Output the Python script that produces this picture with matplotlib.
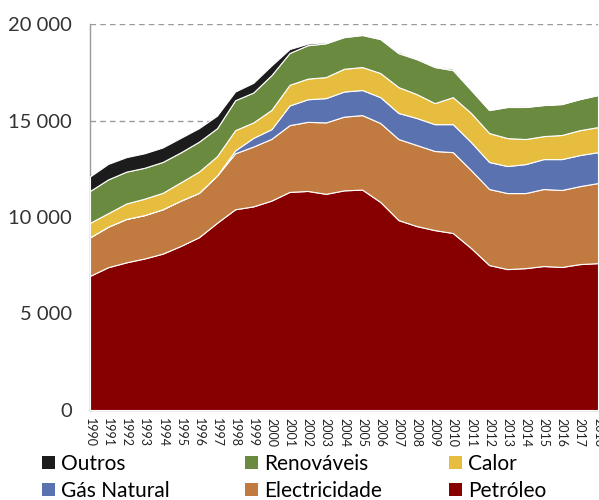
import numpy as np
import matplotlib
matplotlib.use('Agg')
import matplotlib.pyplot as plt
from matplotlib.patches import Patch
from matplotlib.ticker import FuncFormatter

plt.rcParams['font.family'] = ['Lato', 'DejaVu Sans']

# Data (ktep)
years = list(range(1990, 2019))
petroleo = [6950, 7400, 7650, 7850, 8100, 8500, 8950, 9700, 10400, 10550,
            10850, 11300, 11350, 11200, 11380, 11420, 10780, 9840, 9530, 9320,
            9170, 8390, 7510, 7300, 7350, 7460, 7410, 7560, 7610]
electricidade = [2000, 2100, 2250, 2250, 2300, 2350, 2300, 2450, 2900, 3100,
                 3200, 3460, 3580, 3700, 3820, 3860, 4090, 4200, 4200, 4100,
                 4190, 4040, 3940, 3940, 3890, 3990, 3990, 4040, 4150]
gas_natural = [0, 0, 0, 0, 0, 0, 0, 0, 150, 450,
               500, 1020, 1170, 1260, 1300, 1300, 1340, 1350, 1400, 1390,
               1450, 1450, 1400, 1400, 1500, 1550, 1600, 1610, 1600]
calor = [750, 700, 800, 850, 850, 950, 1100, 1000, 1050, 800,
         1000, 1070, 1070, 1090, 1180, 1190, 1250, 1340, 1240, 1090,
         1400, 1510, 1500, 1450, 1300, 1190, 1250, 1290, 1300]
renovaveis = [1650, 1750, 1650, 1600, 1600, 1550, 1550, 1450, 1550, 1550,
              1800, 1650, 1730, 1750, 1640, 1660, 1760, 1760, 1810, 1870,
              1400, 1190, 1190, 1610, 1660, 1610, 1600, 1610, 1660]
outros = [750, 800, 750, 750, 750, 750, 700, 650, 450, 500,
          500, 200, 80, 60, 40, 30, 40, 70, 50, 50,
          70, 40, 40, 30, 30, 20, 20, 20, 20]

series = [petroleo, electricidade, gas_natural, calor, renovaveis, outros]
names = ['Petróleo', 'Electricidade', 'Gás Natural', 'Calor', 'Renováveis', 'Outros']
colors = ['#870000', '#c17b40', '#5a72b0', '#e6bd3e', '#6a8a3f', '#1c1c1c']

fig = plt.figure(figsize=(5.99, 5.0), dpi=100)
ax = fig.add_axes([90/599, 1 - 410/500, 508/599, 386/500])

ax.stackplot(years, *series, colors=colors, edgecolor='white', linewidth=0.8, zorder=3)

ax.set_xlim(1990, 2018)
ax.set_ylim(0, 20000)
ax.set_yticks([0, 5000, 10000, 15000, 20000])
ax.yaxis.set_major_formatter(FuncFormatter(lambda v, p: f'{int(v):,}'.replace(',', ' ')))
ax.yaxis.grid(True, linestyle=(0, (4, 3)), color='#9a9a9a', linewidth=1.0, zorder=1)
ax.set_xticks(years)
ax.set_xticklabels([str(y) for y in years], rotation=-90, fontsize=9, color='#222222')
ax.tick_params(axis='y', labelsize=14.5, colors='#333333', length=0, pad=13)
ax.tick_params(axis='x', length=0, pad=6)

for s in ['top', 'right']:
    ax.spines[s].set_visible(False)
for s in ['left', 'bottom']:
    ax.spines[s].set_color('#999999')
    ax.spines[s].set_linewidth(1.0)

# legend: three columns, two rows
cols = [(['Outros', 'Gás Natural'], 42), (['Renováveis', 'Electricidade'], 245), (['Calor', 'Petróleo'], 449)]
for labels, xpix in cols:
    handles = [Patch(facecolor=colors[names.index(l)], edgecolor='none') for l in labels]
    fig.legend(handles, labels, loc='upper left', bbox_to_anchor=(xpix/599, 1 - 454/500),
               frameon=False, fontsize=15, handlelength=0.6, handleheight=0.6,
               handletextpad=0.3, labelspacing=0.33, borderpad=0, borderaxespad=0)

fig.savefig('out.png', dpi=100)
